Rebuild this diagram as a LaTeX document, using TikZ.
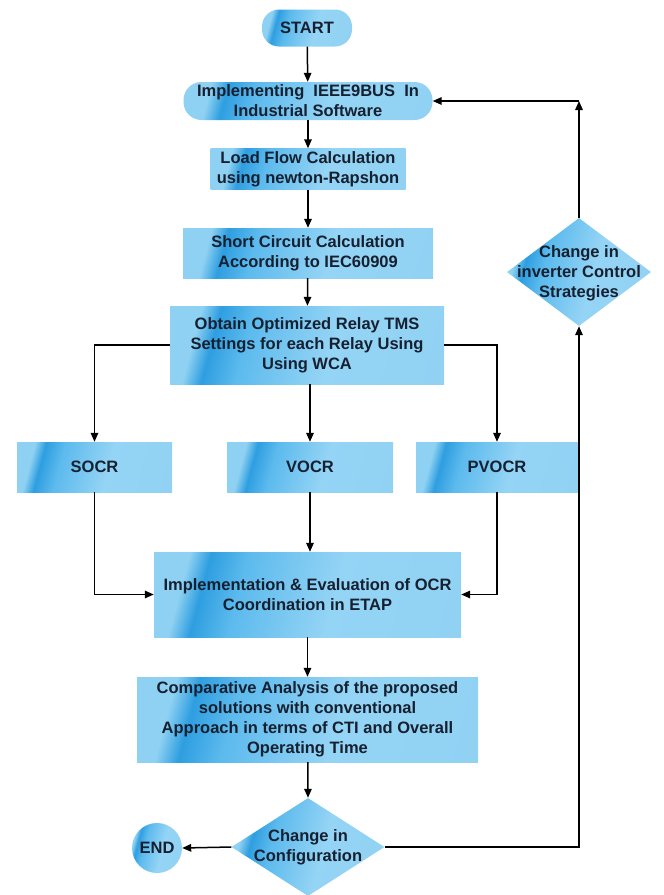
\documentclass[tikz,border=0pt]{standalone}
\usepackage{fontspec}
\setmainfont{Liberation Sans}
\usetikzlibrary{shapes.geometric,arrows.meta}
\definecolor{txtc}{RGB}{22,32,48}
\pgfdeclarehorizontalshading{streak}{100bp}{rgb(0bp)=(0.56,0.82,0.95); rgb(26bp)=(0.56,0.82,0.95); rgb(30bp)=(0.18,0.62,0.88); rgb(37bp)=(0.36,0.73,0.93); rgb(55bp)=(0.58,0.83,0.96); rgb(100bp)=(0.56,0.82,0.95)}
\begin{document}
\begin{tikzpicture}[x=1pt,y=-1pt,
  font=\bfseries\fontsize{16.5}{20}\selectfont,
  blk/.style={rectangle, shading=streak, shading angle=-15, draw=none, align=center, inner sep=0pt, text=txtc},
  dia/.style={diamond, shading=streak, shading angle=-15, draw=none, inner sep=0pt, aspect=1},
  arr/.style={-{Triangle[length=9pt,width=7.5pt]}, line width=1.5pt, black}]
\useasboundingbox (0,0) rectangle (664,895);
\node[blk, rounded corners=17pt, minimum width=90pt, minimum height=37pt] (start) at (307,28) {START};
\node[blk, rounded corners=18pt, minimum width=249pt, minimum height=38pt] (impl) at (308,101) {Implementing\ \ IEEE9BUS\ \ In\\Industrial Software};
\node[blk, minimum width=195pt, minimum height=41pt] (load) at (308,169) {Load Flow Calculation\\using newton-Rapshon};
\node[blk, minimum width=250pt, minimum height=50pt] (short) at (308,253) {Short Circuit Calculation\\According to IEC60909};
\node[blk, minimum width=274pt, minimum height=78pt] (obtain) at (307,345) {Obtain Optimized Relay TMS\\Settings for each Relay Using\\Using WCA};
\node[blk, minimum width=155pt, minimum height=50pt] (socr) at (94.5,467) {SOCR};
\node[blk, minimum width=166pt, minimum height=50pt] (vocr) at (310,467) {VOCR};
\node[blk, minimum width=162pt, minimum height=50pt] (pvocr) at (497,467) {PVOCR};
\node[blk, minimum width=307pt, minimum height=85pt] (implev) at (307.5,594.5) {Implementation \& Evaluation of OCR\\Coordination in ETAP};
\node[blk, minimum width=341pt, minimum height=85pt] (comp) at (307.5,719.5) {Comparative Analysis of the proposed\\solutions with conventional\\Approach in terms of CTI and Overall\\Operating Time};
\node[dia, minimum width=153pt, minimum height=98pt] (conf) at (308,847) {};
\node[align=center, text=txtc] at (conf) {Change in\\Configuration};
\node[circle, shading=streak, shading angle=-15, minimum size=50pt, inner sep=0pt, text=txtc] (end) at (157,848) {END};
\node[dia, minimum width=144pt, minimum height=108pt] (inv) at (579,272) {};
\node[align=center, text=txtc] at ([yshift=-1pt]inv.center) {Change in\\inverter Control\\Strategies};
\coordinate (c1) at (inv.north |- impl.east);
\draw[arr] (start) -- (impl);
\draw[arr] (impl) -- (load);
\draw[arr] (load) -- (short);
\draw[arr] (short) -- (obtain);
\draw[arr] (obtain.west) -| (socr.north);
\draw[arr] (obtain.south -| vocr.north) -- (vocr.north);
\draw[arr] (obtain.east) -| (pvocr.north);
\draw[arr] (socr.south) |- (implev.west);
\draw[arr] (vocr.south) -- (vocr.south |- implev.north);
\draw[arr] (pvocr.south) |- (implev.east);
\draw[arr] (implev) -- (comp);
\draw[arr] (comp) -- (conf.north);
\draw[arr] (conf.west) -- (end.east);
\draw[arr] (conf.east) -| (inv.south);
\draw[arr] (inv.north) -- (c1);
\draw[arr] (c1) -- (impl.east);
\end{tikzpicture}
\end{document}
